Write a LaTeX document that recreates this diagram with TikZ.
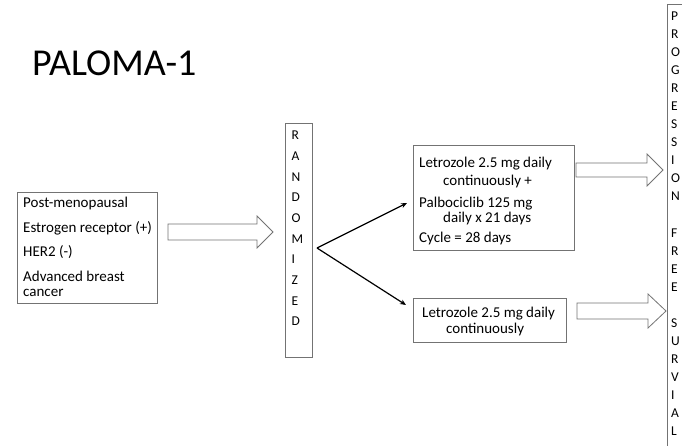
\documentclass[tikz,border=0pt]{standalone}
\usepackage{fontspec}
\setmainfont{Carlito}
\usetikzlibrary{arrows.meta}
\begin{document}
\begin{tikzpicture}[x=1pt,y=-1pt,
  box/.style={draw=black!55, line width=0.8pt, inner sep=0pt, anchor=north west},
  txt/.style={anchor=base west, inner sep=0pt, font=\fontsize{15}{18}\selectfont},
  letr/.style={anchor=base west, inner sep=0pt, font=\fontsize{13.5}{16}\selectfont},
  blockarrow/.style={draw=black!55, line width=0.8pt, fill=white},
  conn/.style={line width=1.2pt, -{Stealth[length=6pt,width=5pt]}}]
\useasboundingbox (0,0) rectangle (682,446);
\clip (0,0) rectangle (682,446);
% title
\node[anchor=base west, inner sep=0pt, font=\fontsize{38}{44}\selectfont] (title) at (32,76) {PALOMA-1};
% patient box
\node[box, minimum width=140pt, minimum height=111pt] (pc) at (17,192) {};
\node[txt] (pc1) at (23,208) {Post-menopausal};
\node[txt] (pc2) at (23,233) {Estrogen receptor (+)};
\node[txt] (pc3) at (23,256) {HER2 (-)};
\node[txt] (pc4) at (23,281) {Advanced breast};
\node[txt] (pc5) at (23,296) {cancer};
% arrow 1
\draw[blockarrow] (168,224) -- (257,224) -- (257,216) -- (273,232) -- (257,248) -- (257,240) -- (168,240) -- cycle;
% randomized
\node[box, minimum width=27pt, minimum height=234pt] (rand) at (285,123) {};
\foreach \ch [count=\i from 0] in {R,A,N,D,O,M,I,Z,E,D}
  \node[letr] (r\i) at (291.5,{140+20.65*\i}) {\ch};
% connectors
\coordinate (apex) at (317,248);
\coordinate (t1) at (407,203);
\coordinate (t2) at (406,305);
\draw[conn] (apex) -- (t1);
\draw[conn] (apex) -- (t2);
% arm 1
\node[box, minimum width=161pt, minimum height=105pt] (arm1) at (413,145) {};
\node[txt] (a11) at (419,168) {Letrozole 2.5 mg daily};
\node[txt] (a12) at (443,186) {continuously +};
\node[txt] (a13) at (419,208) {Palbociclib 125 mg};
\node[txt] (a14) at (443,223) {daily x 21 days};
\node[txt] (a15) at (419,243) {Cycle = 28 days};
% arm 2
\node[box, minimum width=153pt, minimum height=44pt] (arm2) at (413,298) {};
\node[txt] (a21) at (422,317) {Letrozole 2.5 mg daily};
\node[txt] (a22) at (446,333) {continuously};
% right arrows
\draw[blockarrow] (576,163) -- (647,163) -- (647,154) -- (663,170) -- (647,186) -- (647,177) -- (576,177) -- cycle;
\draw[blockarrow] (577,303) -- (648,303) -- (648,294) -- (666,311) -- (648,328) -- (648,319) -- (577,319) -- cycle;
% PFS box
\node[box, minimum width=27pt, minimum height=460pt] (pfs) at (667,4) {};
\foreach \ch [count=\i from 0] in {P,R,O,G,R,E,S,S,I,O,N,{},F,R,E,E,{},S,U,R,V,I,A,L}
  \node[letr] (p\i) at (671,{21+18*\i}) {\ch};
\end{tikzpicture}
\end{document}
